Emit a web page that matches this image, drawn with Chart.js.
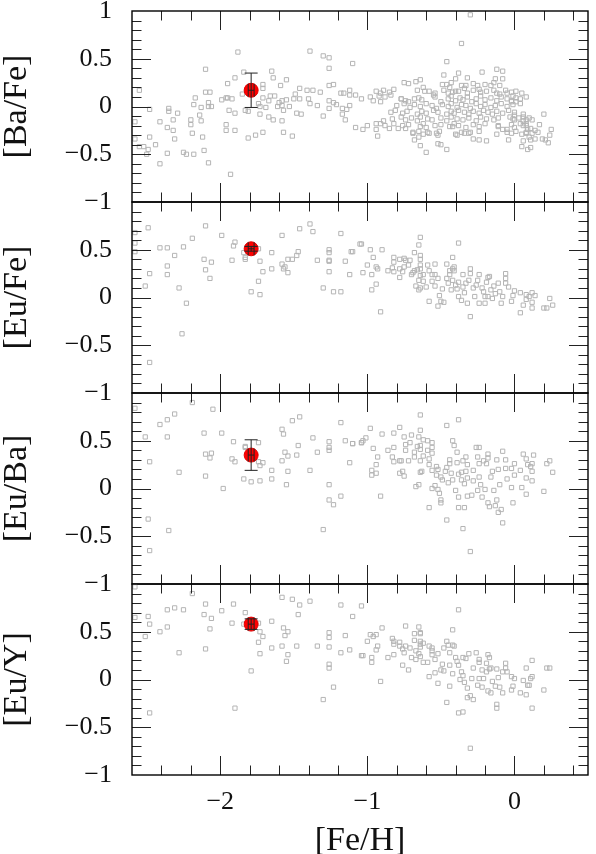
<!DOCTYPE html>
<html>
<head>
<meta charset="utf-8">
<script src="https://cdn.jsdelivr.net/npm/chart.js@4.4.0/dist/chart.umd.min.js"></script>
<style>
  body { margin: 0; background: #fff; width: 596px; height: 854px; overflow: hidden; position: relative; }
  .panel { position: absolute; left: 0; width: 596px; }
</style>
</head>
<body>
<div class="panel" style="top:-1px"><canvas id="c0" width="596" height="215"></canvas></div>
<div class="panel" style="top:190px"><canvas id="c1" width="596" height="215"></canvas></div>
<div class="panel" style="top:381px"><canvas id="c2" width="596" height="215"></canvas></div>
<div class="panel" style="top:572px"><canvas id="c3" width="596" height="282"></canvas></div>
<script>
// axis titles and ticks
const Y_TITLES = ['[Ba/Fe]', '[Eu/Fe]', '[Eu/Ba]', '[Eu/Y]'];
const X_TITLE = '[Fe/H]';
const X_TICKS = [-2, -1, 0];
const Y_TICKS_TOP = [1, 0.5, 0, -0.5, -1];
const Y_TICKS = [0.5, 0, -0.5, -1];
const X_MIN = -2.6, X_MAX = 0.5;

// the star (red point) in each panel
const STAR_FEH = -1.79;
const STAR_FEH_ERR = 0.02;
const STAR_VALS = [0.17, 0.51, 0.35, 0.58];
const STAR_ERRS = [0.18, 0.025, 0.16, 0.055];

// comparison sample, [ [Fe/H], ratio ]
const BA_FE = [
  [-1.88,0.57],[-2.10,0.39],[-1.84,0.36],[-1.65,0.37],[-1.64,0.30],[-1.95,0.24],[-1.90,0.30],[-1.55,0.28],
  [-2.55,0.17],[-2.10,0.15],[-2.07,0.15],[-1.85,0.13],[-1.71,0.23],[-1.71,0.19],[-1.59,0.22],[-1.49,0.13],
  [-2.17,0.09],[-2.18,0.02],[-1.99,0.07],[-1.96,0.09],[-1.95,0.09],[-1.92,0.08],[-2.08,0.04],[-2.06,0.00],
  [-2.08,0.00],[-2.13,-0.01],[-1.94,-0.04],[-1.90,-0.07],[-1.83,-0.04],[-1.81,-0.05],[-1.74,0.03],[-1.73,0.00],
  [-1.71,0.09],[-1.69,-0.01],[-1.67,0.06],[-1.66,0.11],[-1.63,0.11],[-1.61,0.00],[-1.60,0.04],[-1.58,0.06],
  [-1.58,0.01],[-1.57,-0.04],[-1.55,0.07],[-1.53,0.00],[-1.50,0.08],[-1.73,-0.08],[-1.67,-0.11],[-1.64,-0.14],
  [-1.58,-0.15],[-1.48,-0.07],[-2.48,-0.03],[-2.35,-0.02],[-2.35,-0.05],[-2.29,-0.07],[-2.58,-0.16],[-2.41,-0.16],
  [-2.32,-0.14],[-2.20,-0.14],[-2.14,-0.09],[-2.13,-0.15],[-2.20,-0.19],[-2.36,-0.22],[-2.32,-0.25],[-1.96,-0.19],
  [-1.96,-0.25],[-1.90,-0.25],[-2.19,-0.28],[-2.58,-0.34],[-2.48,-0.32],[-2.31,-0.34],[-2.12,-0.32],[-1.81,-0.33],
  [-1.76,-0.30],[-1.71,-0.27],[-1.57,-0.27],[-1.51,-0.31],[-2.55,-0.42],[-2.52,-0.42],[-2.49,-0.45],[-2.44,-0.40],
  [-2.11,-0.46],[-2.50,-0.50],[-2.36,-0.49],[-2.25,-0.48],[-2.23,-0.50],[-2.18,-0.50],[-2.41,-0.60],[-2.08,-0.59],
  [-1.93,-0.71],
  [-0.30,0.96],[-0.36,0.66],[-1.39,0.58],[-1.30,0.53],[-1.26,0.51],[-1.26,0.40],[-1.10,0.45],[-0.46,0.47],
  [-0.48,0.33],[-0.38,0.35],[-0.22,0.36],[-0.12,0.39],[-0.08,0.37],[-0.08,0.29],[-0.13,0.29],[-0.32,0.30],
  [-0.40,0.29],[-0.64,0.28],[-0.67,0.26],[-0.72,0.24],[-0.75,0.25],[-1.26,0.22],[-1.23,0.23],[-1.18,0.14],
  [-1.16,0.14],[-1.12,0.17],[-1.12,0.12],[-1.08,0.12],[-1.46,0.19],[-1.41,0.17],[-1.37,0.17],[-1.32,0.15],
  [-1.46,0.08],[-1.40,0.08],[-1.39,0.03],[-1.34,0.01],[-1.26,0.06],[-1.23,0.04],[-1.21,0.02],[-1.17,-0.02],
  [-1.14,-0.03],[-1.12,0.01],[-1.26,-0.02],[-1.30,-0.10],[-1.45,-0.08],[-1.17,-0.08],[-1.15,-0.14],[-1.03,-0.24],
  [-1.08,-0.22],[-1.00,-0.20],[-0.94,-0.24],[-0.93,-0.31],[-0.94,-0.18],[-0.91,-0.18],[-1.04,0.08],[-0.98,0.10],
  [-0.96,0.06],[-0.92,0.11],[-0.91,0.05],[-0.88,0.10],[-0.82,0.18],[-0.84,0.12],[-0.77,0.08],[-0.72,0.05],
  [-0.68,0.08],[-0.66,0.17],[-0.62,0.20],[-0.58,0.16],[-0.55,0.12],[-0.49,0.23],[-0.44,0.20],[-0.45,0.14],
  [-0.40,0.16],[-0.36,0.22],[-0.34,0.19],[-0.25,0.22],[-0.24,0.18],[-0.16,0.22],[-0.14,0.17],[-0.10,0.13],
  [-0.05,0.14],[-0.01,0.11],[0.04,0.08],[0.08,0.10],[-0.02,0.06],[0.01,0.05],[0.04,0.03],[0.20,-0.08],
  [0.00,-0.14],[0.04,-0.18],[0.09,-0.24],[0.10,-0.32],[0.12,-0.14],[0.16,-0.27],[0.17,-0.19],[0.19,-0.34],
  [0.21,-0.35],[0.24,-0.30],[0.23,-0.38],[0.25,-0.24],[0.05,-0.42],[0.09,-0.45],[0.11,-0.43],[-0.04,-0.35],
  [-0.05,-0.24],[-0.08,-0.24],[-0.11,-0.21],[-0.19,-0.36],[-0.24,-0.35],[-0.28,-0.34],[-0.30,-0.27],[-0.34,-0.28],
  [-0.39,-0.30],[-0.42,-0.21],[-0.46,-0.45],[-0.50,-0.40],[-0.52,-0.39],[-0.52,-0.30],[-0.58,-0.28],[-0.60,-0.48],
  [-0.64,-0.41],[-0.65,-0.32],[-0.68,-0.35],[-0.69,-0.27],[-0.74,-0.23],[-0.76,-0.20],[-0.79,-0.23],[-0.82,-0.18],
  [-0.85,-0.23],[-0.89,-0.15],
  [-0.77,0.08],[-0.74,0.06],[-0.65,0.09],[-0.63,0.07],[-0.54,0.10],[-0.50,0.05],[-0.45,0.08],[-0.43,0.11],
  [-0.40,0.06],[-0.37,0.09],[-0.35,0.07],[-0.32,0.10],[-0.29,0.05],[-0.26,0.08],[-0.23,0.11],[-0.20,0.07],
  [-0.16,0.09],[-0.12,0.06],[-0.09,0.10],[-0.05,0.08],[-0.02,0.05],[0.01,0.09],
  [-0.80,0.01],[-0.75,0.03],[-0.71,-0.01],[-0.68,0.02],[-0.64,0.00],[-0.60,0.03],[-0.56,0.01],[-0.53,-0.02],
  [-0.49,0.02],[-0.45,0.00],[-0.43,0.03],[-0.39,-0.01],[-0.36,0.02],[-0.33,0.01],[-0.30,-0.02],[-0.26,0.03],
  [-0.23,0.00],[-0.20,0.02],[-0.16,-0.01],[-0.13,0.01],[-0.09,0.03],[-0.05,0.00],[-0.01,0.02],
  [-0.84,-0.06],[-0.81,-0.04],[-0.76,-0.07],[-0.73,-0.05],[-0.66,-0.08],[-0.63,-0.05],[-0.60,-0.07],[-0.55,-0.04],
  [-0.52,-0.06],[-0.46,-0.08],[-0.43,-0.05],[-0.41,-0.07],[-0.38,-0.04],[-0.34,-0.06],[-0.31,-0.08],[-0.28,-0.05],
  [-0.24,-0.07],[-0.21,-0.04],[-0.18,-0.06],[-0.15,-0.08],[-0.12,-0.05],[-0.08,-0.07],[-0.04,-0.04],[0.00,-0.06],
  [0.06,-0.08],
  [-0.83,-0.13],[-0.77,-0.11],[-0.74,-0.14],[-0.70,-0.12],[-0.66,-0.15],[-0.64,-0.11],[-0.59,-0.13],[-0.56,-0.14],
  [-0.50,-0.12],[-0.46,-0.15],[-0.43,-0.11],[-0.39,-0.13],[-0.35,-0.14],[-0.31,-0.12],[-0.26,-0.15],[-0.23,-0.11],
  [-0.19,-0.13],[-0.14,-0.14],[-0.11,-0.12],[-0.01,-0.13],[0.06,-0.11],[0.08,-0.14],[0.10,-0.12],
  [-0.88,-0.20],[-0.72,-0.19],[-0.64,-0.21],[-0.62,-0.18],[-0.60,-0.22],[-0.54,-0.20],[-0.50,-0.19],[-0.44,-0.21],
  [-0.41,-0.18],[-0.38,-0.20],[-0.33,-0.22],[-0.28,-0.19],[-0.24,-0.21],[-0.20,-0.18],[-0.11,-0.20],[-0.02,-0.19],
  [0.00,-0.22],[0.06,-0.20],[0.08,-0.18],
  [-0.69,-0.28],[-0.65,-0.26],[-0.62,-0.29],[-0.59,-0.27],[-0.53,-0.28],[-0.51,-0.26],[-0.40,-0.29],[-0.36,-0.27],
  [-0.31,-0.28],[-0.24,-0.26],[-0.12,-0.29],[-0.05,-0.27],[-0.02,-0.28],[0.01,-0.26],[0.05,-0.29],[0.08,-0.27],
  [0.12,-0.28],
  [-0.94,0.16],[-0.91,0.14],[-0.89,0.17],[-0.85,0.15],[-0.61,0.16],[-0.54,0.14],[-0.48,0.17],[-0.42,0.15],
  [-0.38,0.16],[-0.32,0.14],[-0.28,0.17],[-0.23,0.15],[-0.19,0.16],[-0.12,0.14],[-0.06,0.17],[-0.02,0.15],
  [0.01,0.16],[0.05,0.14],
  [-0.46,0.23],[-0.43,0.25],[-0.33,0.22],[-0.28,0.24],[-0.20,0.23],[-0.14,0.25],[-0.10,0.22],
  [-0.03,-0.11],[0.00,-0.09],[0.03,-0.12],[0.06,-0.15],[0.08,-0.20],[0.11,-0.23],[0.14,-0.25],[0.08,-0.28],
  [0.11,-0.35],[0.14,-0.34],[0.06,-0.36]
];

const EU_FE = [
  [-2.58,0.68],[-2.49,0.73],[-2.58,0.57],[-2.58,0.48],[-2.41,0.52],[-2.36,0.52],[-2.25,0.53],[-2.31,0.44],
  [-2.48,0.25],[-2.36,0.33],[-2.36,0.24],[-2.51,0.12],[-2.28,0.10],[-2.23,-0.06],[-2.26,-0.38],[-2.48,-0.68],
  [-2.19,0.62],[-2.10,0.75],[-1.99,0.65],[-1.90,0.58],[-1.91,0.54],[-2.11,0.40],[-2.06,0.37],[-2.10,0.29],
  [-2.07,0.20],[-1.92,0.39],[-1.83,0.42],[-1.83,0.40],[-1.84,0.47],[-1.73,0.38],[-1.71,0.27],[-1.74,0.17],
  [-1.79,0.06],[-1.73,0.03],[-1.65,0.47],[-1.65,0.30],[-1.58,0.65],[-1.58,0.35],[-1.56,0.32],[-1.57,0.30],
  [-1.54,0.40],[-1.54,0.26],[-1.51,0.40],[-1.48,0.44],[-1.47,0.48],[-1.46,0.72],[-1.39,0.77],[-1.37,0.69],
  [-1.34,0.39],[-1.30,0.10],[-1.26,0.50],[-1.26,0.47],[-1.26,0.39],[-1.26,0.38],[-1.26,0.27],[-1.23,0.06],
  [-1.18,0.06],[-1.18,0.67],[-1.15,0.38],[-1.12,0.24],[-1.11,0.48],[-1.05,0.56],[-1.74,0.51],
  [-1.10,0.48],[-1.04,0.56],[-0.98,0.50],[-0.90,0.50],[-0.96,0.42],[-1.00,0.34],[-1.03,0.26],[-0.97,0.24],
  [-0.94,0.32],[-0.93,0.30],[-0.94,0.14],[-0.97,0.08],[-0.91,-0.15],[-0.86,0.28],[-0.83,0.31],[-0.82,0.42],
  [-0.82,0.37],[-0.82,0.27],[-0.78,0.40],[-0.78,0.30],[-0.78,0.21],[-0.76,0.27],[-0.75,0.32],[-0.75,0.41],
  [-0.74,0.39],[-0.71,0.39],[-0.72,0.34],[-0.70,0.24],[-0.69,0.26],[-0.68,0.47],[-0.68,0.28],[-0.66,0.29],
  [-0.65,0.55],[-0.64,0.63],[-0.64,0.44],[-0.64,0.40],[-0.64,0.34],[-0.64,0.30],[-0.64,0.23],[-0.62,0.24],
  [-0.65,0.18],[-0.62,0.17],[-0.67,0.12],[-0.65,0.08],[-0.64,0.10],[-0.59,0.34],[-0.60,0.11],[-0.58,0.28],
  [-0.58,-0.04],[-0.56,0.24],[-0.54,0.35],[-0.56,0.17],[-0.54,0.24],[-0.54,0.12],[-0.52,0.20],[-0.52,-0.09],
  [-0.51,0.02],[-0.50,-0.04],[-0.49,0.09],[-0.48,-0.05],[-0.46,0.35],[-0.46,0.20],[-0.45,0.15],[-0.44,0.28],
  [-0.44,0.24],[-0.42,0.42],[-0.42,0.30],[-0.41,0.32],[-0.42,0.18],[-0.43,0.08],[-0.41,0.28],[-0.40,0.13],
  [-0.38,0.57],[-0.39,0.09],[-0.38,0.01],[-0.35,0.24],[-0.38,0.16],[-0.35,0.11],[-0.34,0.05],[-0.36,-0.03],
  [-0.32,-0.06],[-0.33,0.15],[-0.31,0.18],[-0.30,0.30],[-0.30,0.25],[-0.30,-0.20],[-0.28,0.10],[-0.27,0.01],
  [-0.26,0.13],[-0.25,0.18],[-0.24,0.24],[-0.24,-0.06],[-0.22,0.10],[-0.21,0.06],[-0.20,0.01],[-0.20,-0.06],
  [-0.19,0.16],[-0.18,0.21],[-0.17,0.22],[-0.18,0.01],[-0.16,0.08],[-0.15,-0.01],[-0.14,0.12],[-0.13,0.04],
  [-0.11,0.15],[-0.10,0.06],[-0.09,-0.06],[-0.08,0.01],[-0.06,0.25],[-0.06,0.20],[-0.06,0.15],[-0.04,0.11],
  [-0.02,-0.04],[-0.01,0.02],[0.00,0.07],[0.04,0.05],[0.04,-0.16],[0.06,-0.08],[0.08,0.03],[0.08,-0.02],
  [0.10,0.01],[0.12,-0.11],[0.12,0.05],[0.12,-0.05],[0.14,0.02],[0.20,-0.11],[0.22,-0.11],[0.24,-0.01],
  [0.26,-0.08]
];

const EU_BA = [
  [-2.58,0.84],[-2.19,0.90],[-2.05,0.83],[-2.31,0.78],[-2.36,0.72],[-2.41,0.67],[-2.51,0.54],[-2.36,0.54],
  [-2.11,0.58],[-1.99,0.58],[-2.48,0.28],[-2.28,0.17],[-2.10,0.36],[-2.06,0.37],[-2.07,0.32],[-2.10,0.13],
  [-1.98,0.00],[-1.91,0.49],[-1.83,0.44],[-1.83,0.43],[-1.74,0.48],[-1.92,0.31],[-1.90,0.28],[-1.74,0.28],
  [-1.73,0.24],[-1.71,0.27],[-1.84,0.10],[-1.79,0.07],[-1.73,0.08],[-1.65,0.19],[-1.65,0.10],[-1.58,0.62],
  [-1.57,0.57],[-1.51,0.71],[-1.46,0.75],[-1.56,0.38],[-1.54,0.34],[-1.58,0.29],[-1.54,0.18],[-1.55,0.04],
  [-1.47,0.45],[-1.48,0.35],[-1.39,0.19],[-1.37,0.53],[-1.34,0.38],[-1.26,0.49],[-1.26,0.43],[-1.26,0.40],
  [-1.26,0.04],[-1.26,-0.12],[-1.23,-0.17],[-1.18,-0.08],[-1.30,-0.43],[-1.18,0.69],[-1.15,0.50],[-1.12,0.27],
  [-1.10,0.47],[-1.04,0.48],[-2.49,-0.32],[-2.35,-0.44],[-2.48,-0.65],
  [-1.10,0.47],[-1.04,0.48],[-1.03,0.50],[-1.01,0.53],[-0.98,0.63],[-0.96,0.42],[-0.93,0.33],[-0.94,0.25],
  [-0.97,0.19],[-0.97,0.14],[-0.94,0.16],[-0.91,-0.08],[-0.90,0.57],[-0.86,0.40],[-0.83,0.33],[-0.82,0.28],
  [-0.82,0.58],[-0.82,0.43],[-0.78,0.64],[-0.78,0.29],[-0.77,0.29],[-0.78,0.16],[-0.76,0.18],[-0.75,0.54],
  [-0.75,0.13],[-0.74,0.46],[-0.74,0.40],[-0.72,0.29],[-0.71,0.48],[-0.70,0.56],[-0.68,0.38],[-0.68,0.33],
  [-0.67,0.02],[-0.66,0.44],[-0.65,0.54],[-0.64,0.77],[-0.64,0.61],[-0.64,0.45],[-0.64,0.41],[-0.64,0.29],
  [-0.64,0.17],[-0.63,0.18],[-0.65,0.04],[-0.62,0.51],[-0.62,0.34],[-0.59,0.50],[-0.59,0.40],[-0.58,0.25],
  [-0.58,0.31],[-0.58,-0.20],[-0.56,0.48],[-0.56,0.37],[-0.56,0.43],[-0.56,0.19],[-0.56,0.00],[-0.54,0.03],
  [-0.53,0.23],[-0.53,0.14],[-0.52,-0.01],[-0.52,0.20],[-0.50,0.12],[-0.51,-0.05],[-0.50,-0.15],[-0.50,-0.12],
  [-0.49,0.09],[-0.47,0.18],[-0.46,0.66],[-0.46,0.22],[-0.46,-0.33],[-0.45,0.06],[-0.44,0.30],[-0.44,0.26],
  [-0.43,0.16],[-0.42,0.50],[-0.42,0.09],[-0.41,0.45],[-0.40,-0.02],[-0.39,0.27],[-0.39,0.38],[-0.38,0.72],
  [-0.38,0.15],[-0.38,-0.09],[-0.38,-0.20],[-0.36,0.09],[-0.36,0.17],[-0.35,-0.42],[-0.35,0.29],[-0.34,0.05],
  [-0.34,-0.20],[-0.33,0.33],[-0.33,0.18],[-0.32,0.11],[-0.32,-0.08],[-0.32,0.25],[-0.30,-0.66],[-0.29,-0.07],
  [-0.28,0.08],[-0.28,0.19],[-0.26,0.43],[-0.24,0.43],[-0.25,-0.02],[-0.25,0.33],[-0.24,0.26],[-0.24,0.12],
  [-0.23,0.04],[-0.22,-0.09],[-0.21,0.29],[-0.20,-0.01],[-0.19,0.26],[-0.18,-0.15],[-0.18,0.36],[-0.18,0.32],
  [-0.17,-0.19],[-0.16,0.12],[-0.15,0.18],[-0.14,-0.02],[-0.13,-0.18],[-0.12,0.30],[-0.12,-0.12],[-0.11,0.20],
  [-0.11,-0.25],[-0.10,0.04],[-0.09,-0.22],[-0.08,-0.36],[-0.08,0.39],[-0.06,0.21],[-0.06,0.30],[-0.05,0.10],
  [-0.02,0.21],[-0.02,0.01],[-0.01,-0.15],[0.00,0.26],[0.00,0.14],[0.04,0.19],[0.05,0.01],[0.06,0.36],
  [0.08,0.31],[0.08,0.11],[0.08,-0.06],[0.09,0.25],[0.11,0.23],[0.12,0.26],[0.12,0.18],[0.12,0.08],
  [0.13,0.35],[0.20,-0.03],[0.22,0.26],[0.24,0.29],[0.26,0.17]
];

const EU_Y = [
  [-2.58,0.97],[-2.19,0.90],[-2.49,0.66],[-2.58,0.65],[-2.48,0.58],[-2.51,0.45],[-2.41,0.50],[-2.36,0.73],
  [-2.31,0.75],[-2.25,0.73],[-2.36,0.55],[-2.28,0.28],[-2.48,-0.35],[-2.10,0.79],[-2.11,0.68],[-2.06,0.64],
  [-2.07,0.53],[-2.10,0.32],[-1.99,0.72],[-1.91,0.79],[-1.92,0.59],[-1.84,0.58],[-1.83,0.70],[-1.74,0.59],
  [-1.73,0.50],[-1.71,0.45],[-1.74,0.39],[-1.73,0.27],[-1.79,0.09],[-1.90,-0.30],[-1.65,0.61],[-1.65,0.33],
  [-1.58,0.86],[-1.51,0.84],[-1.46,0.78],[-1.39,0.82],[-1.47,0.68],[-1.57,0.54],[-1.54,0.50],[-1.56,0.46],
  [-1.58,0.35],[-1.48,0.35],[-1.54,0.26],[-1.55,0.19],[-1.34,0.35],[-1.26,0.49],[-1.26,0.44],[-1.26,0.34],
  [-1.26,0.16],[-1.26,0.12],[-1.23,-0.08],[-1.30,-0.21],[-1.18,0.78],[-1.15,0.46],[-1.18,0.28],[-1.12,0.31],
  [-1.10,0.66],[-1.04,0.77],[-1.04,0.25],
  [-1.00,0.40],[-0.98,0.47],[-0.96,0.45],[-0.94,0.47],[-0.93,0.35],[-0.94,0.31],[-1.03,0.25],[-0.97,0.23],
  [-0.97,0.18],[-0.90,0.54],[-0.91,-0.02],[-0.86,0.23],[-0.83,0.43],[-0.82,0.40],[-0.82,0.37],[-0.82,0.26],
  [-0.78,0.39],[-0.78,0.35],[-0.76,0.15],[-0.76,0.32],[-0.75,0.28],[-0.74,0.56],[-0.74,0.35],[-0.72,0.10],
  [-0.71,0.33],[-0.70,0.23],[-0.68,0.48],[-0.68,0.41],[-0.67,0.21],[-0.67,0.30],[-0.65,0.55],[-0.64,0.48],
  [-0.64,0.49],[-0.64,0.40],[-0.64,0.37],[-0.64,0.34],[-0.65,0.27],[-0.64,0.24],[-0.62,0.18],[-0.62,0.38],
  [-0.59,0.18],[-0.58,0.35],[-0.58,0.03],[-0.56,0.26],[-0.56,0.30],[-0.56,0.33],[-0.54,0.21],[-0.54,0.07],
  [-0.52,0.27],[-0.52,-0.04],[-0.50,0.10],[-0.49,0.16],[-0.48,0.33],[-0.48,0.09],[-0.46,0.40],[-0.46,-0.24],
  [-0.45,0.36],[-0.44,0.15],[-0.44,0.28],[-0.44,-0.07],[-0.42,0.52],[-0.42,0.06],[-0.42,0.36],[-0.41,0.35],
  [-0.40,0.23],[-0.39,0.19],[-0.38,0.73],[-0.38,0.15],[-0.38,-0.35],[-0.35,-0.34],[-0.37,0.00],[-0.36,0.08],
  [-0.35,0.23],[-0.35,0.04],[-0.34,-0.03],[-0.33,0.22],[-0.32,-0.09],[-0.32,-0.19],[-0.31,0.27],[-0.30,-0.17],
  [-0.30,-0.72],[-0.29,0.01],[-0.28,-0.21],[-0.28,0.12],[-0.26,0.28],[-0.25,-0.06],[-0.24,0.18],[-0.24,0.01],
  [-0.24,0.21],[-0.22,0.10],[-0.22,-0.08],[-0.21,0.01],[-0.19,0.08],[-0.19,0.17],[-0.18,-0.12],[-0.18,0.26],
  [-0.17,0.23],[-0.17,0.11],[-0.16,-0.14],[-0.16,0.12],[-0.15,-0.02],[-0.13,-0.07],[-0.12,0.11],[-0.12,-0.26],
  [-0.12,-0.30],[-0.11,0.02],[-0.10,-0.08],[-0.08,-0.14],[-0.08,0.08],[-0.06,0.12],[-0.06,0.17],[-0.05,0.08],
  [-0.02,-0.11],[-0.02,0.03],[-0.01,-0.07],[0.00,0.01],[0.04,-0.14],[0.06,-0.01],[0.08,-0.16],[0.08,0.12],
  [0.09,-0.06],[0.10,-0.06],[0.11,0.01],[0.12,0.20],[0.12,0.03],[0.12,-0.30],[0.20,-0.11],[0.22,0.12],
  [0.24,0.12]
];

const PANELS = [BA_FE, EU_FE, EU_BA, EU_Y];

// tick steps for the inward tick marks
const X_MAJOR = 1, X_MINOR = 0.2;
const Y_MAJOR = 0.5, Y_MINOR = 0.1;
const MAJOR_LEN = 19, MINOR_LEN = 9.5;

Chart.defaults.font.family = '"Liberation Serif", "Times New Roman", serif';
Chart.defaults.color = '#111';

function fmt(v) {
  return v < 0 ? '\u2212' + String(-v) : String(v);
}

// frame with inward ticks on all four sides
const frameTicks = {
  id: 'frameTicks',
  afterDraw(chart) {
    const { ctx, chartArea: a, scales: { x, y } } = chart;
    ctx.save();
    ctx.strokeStyle = '#222';
    ctx.lineWidth = 1;
    ctx.beginPath();
    const nx0 = Math.ceil(X_MIN / X_MINOR - 1e-6), nx1 = Math.floor(X_MAX / X_MINOR + 1e-6);
    for (let k = nx0; k <= nx1; k++) {
      const v = k * X_MINOR;
      if (v <= X_MIN + 1e-6 || v >= X_MAX - 1e-6) continue;
      const major = Math.abs(v / X_MAJOR - Math.round(v / X_MAJOR)) < 1e-6;
      const len = major ? MAJOR_LEN : MINOR_LEN;
      const px = Math.round(x.getPixelForValue(v)) + 0.5;
      ctx.moveTo(px, a.top); ctx.lineTo(px, a.top + len);
      ctx.moveTo(px, a.bottom); ctx.lineTo(px, a.bottom - len);
    }
    for (let k = -9; k <= 9; k++) {
      const v = k * Y_MINOR;
      const major = Math.abs(v / Y_MAJOR - Math.round(v / Y_MAJOR)) < 1e-6;
      const len = major ? MAJOR_LEN : MINOR_LEN;
      const py = Math.round(y.getPixelForValue(v)) + 0.5;
      ctx.moveTo(a.left, py); ctx.lineTo(a.left + len, py);
      ctx.moveTo(a.right, py); ctx.lineTo(a.right - len, py);
    }
    ctx.stroke();
    ctx.lineWidth = 1.4;
    ctx.strokeStyle = '#000';
    ctx.strokeRect(a.left, a.top, a.right - a.left, a.bottom - a.top);
    ctx.restore();
  }
};

function makePanel(i) {
  const last = i === PANELS.length - 1;
  // error bars of the star, drawn over its marker
  const errBars = {
    id: 'errBars' + i,
    afterDatasetsDraw(chart) {
      const { ctx, scales: { x, y } } = chart;
      const cx = x.getPixelForValue(STAR_FEH);
      const cy = y.getPixelForValue(STAR_VALS[i]);
      const y0 = y.getPixelForValue(STAR_VALS[i] - STAR_ERRS[i]);
      const y1 = y.getPixelForValue(STAR_VALS[i] + STAR_ERRS[i]);
      const x0 = x.getPixelForValue(STAR_FEH - STAR_FEH_ERR);
      const x1 = x.getPixelForValue(STAR_FEH + STAR_FEH_ERR);
      const cap = 6.5;
      ctx.save();
      ctx.strokeStyle = '#222';
      ctx.lineWidth = 1;
      ctx.beginPath();
      ctx.moveTo(cx, y0); ctx.lineTo(cx, y1);
      ctx.moveTo(cx - cap, y0); ctx.lineTo(cx + cap, y0);
      ctx.moveTo(cx - cap, y1); ctx.lineTo(cx + cap, y1);
      ctx.moveTo(x0, cy); ctx.lineTo(x1, cy);
      ctx.moveTo(x0, cy - cap); ctx.lineTo(x0, cy + cap);
      ctx.moveTo(x1, cy - cap); ctx.lineTo(x1, cy + cap);
      ctx.stroke();
      ctx.restore();
    }
  };

  return new Chart(document.getElementById('c' + i), {
    type: 'scatter',
    data: {
      datasets: [
        {
          data: [{ x: STAR_FEH, y: STAR_VALS[i] }],
          pointStyle: 'circle',
          pointRadius: 7,
          pointBackgroundColor: '#ff0000',
          pointBorderColor: '#e00000',
          pointBorderWidth: 1
        },
        {
          data: PANELS[i].map(p => ({ x: p[0], y: p[1] })),
          pointStyle: 'rect',
          pointRadius: 3,
          pointBackgroundColor: 'rgba(0,0,0,0)',
          pointBorderColor: '#b4b4b4',
          pointBorderWidth: 1
        }
      ]
    },
    options: {
      responsive: false,
      animation: false,
      events: [],
      layout: { padding: { top: 12, bottom: last ? 0 : 12, left: 0, right: 0 } },
      plugins: { legend: { display: false }, tooltip: { enabled: false } },
      scales: {
        x: {
          type: 'linear',
          min: X_MIN,
          max: X_MAX,
          display: last,
          grid: { display: false, drawTicks: true, tickLength: 12 },
          border: { display: false },
          afterBuildTicks: s => { s.ticks = X_TICKS.map(v => ({ value: v })); },
          afterFit: s => { s.height = last ? 79 : 0; },
          ticks: { font: { size: 26 }, padding: 0, callback: v => fmt(v), maxRotation: 0, autoSkip: false },
          title: {
            display: true,
            text: X_TITLE,
            font: { size: 34, lineHeight: 0.6 },
            padding: { top: 0, bottom: 3 }
          }
        },
        y: {
          type: 'linear',
          min: -1,
          max: 1,
          grid: { display: false, drawTicks: true, tickLength: 20 },
          border: { display: false },
          afterBuildTicks: s => { s.ticks = (i === 0 ? Y_TICKS_TOP : Y_TICKS).map(v => ({ value: v })); },
          afterFit: s => { s.width = 132; },
          ticks: { font: { size: 26, lineHeight: 0.8 }, padding: 0, callback: v => fmt(v), autoSkip: false },
          title: {
            display: true,
            text: Y_TITLES[i],
            font: { size: 34, lineHeight: 1 },
            padding: { top: 0, bottom: 0 }
          }
        }
      }
    },
    plugins: [frameTicks, errBars]
  });
}

PANELS.forEach((_, i) => makePanel(i));
</script>
</body>
</html>
